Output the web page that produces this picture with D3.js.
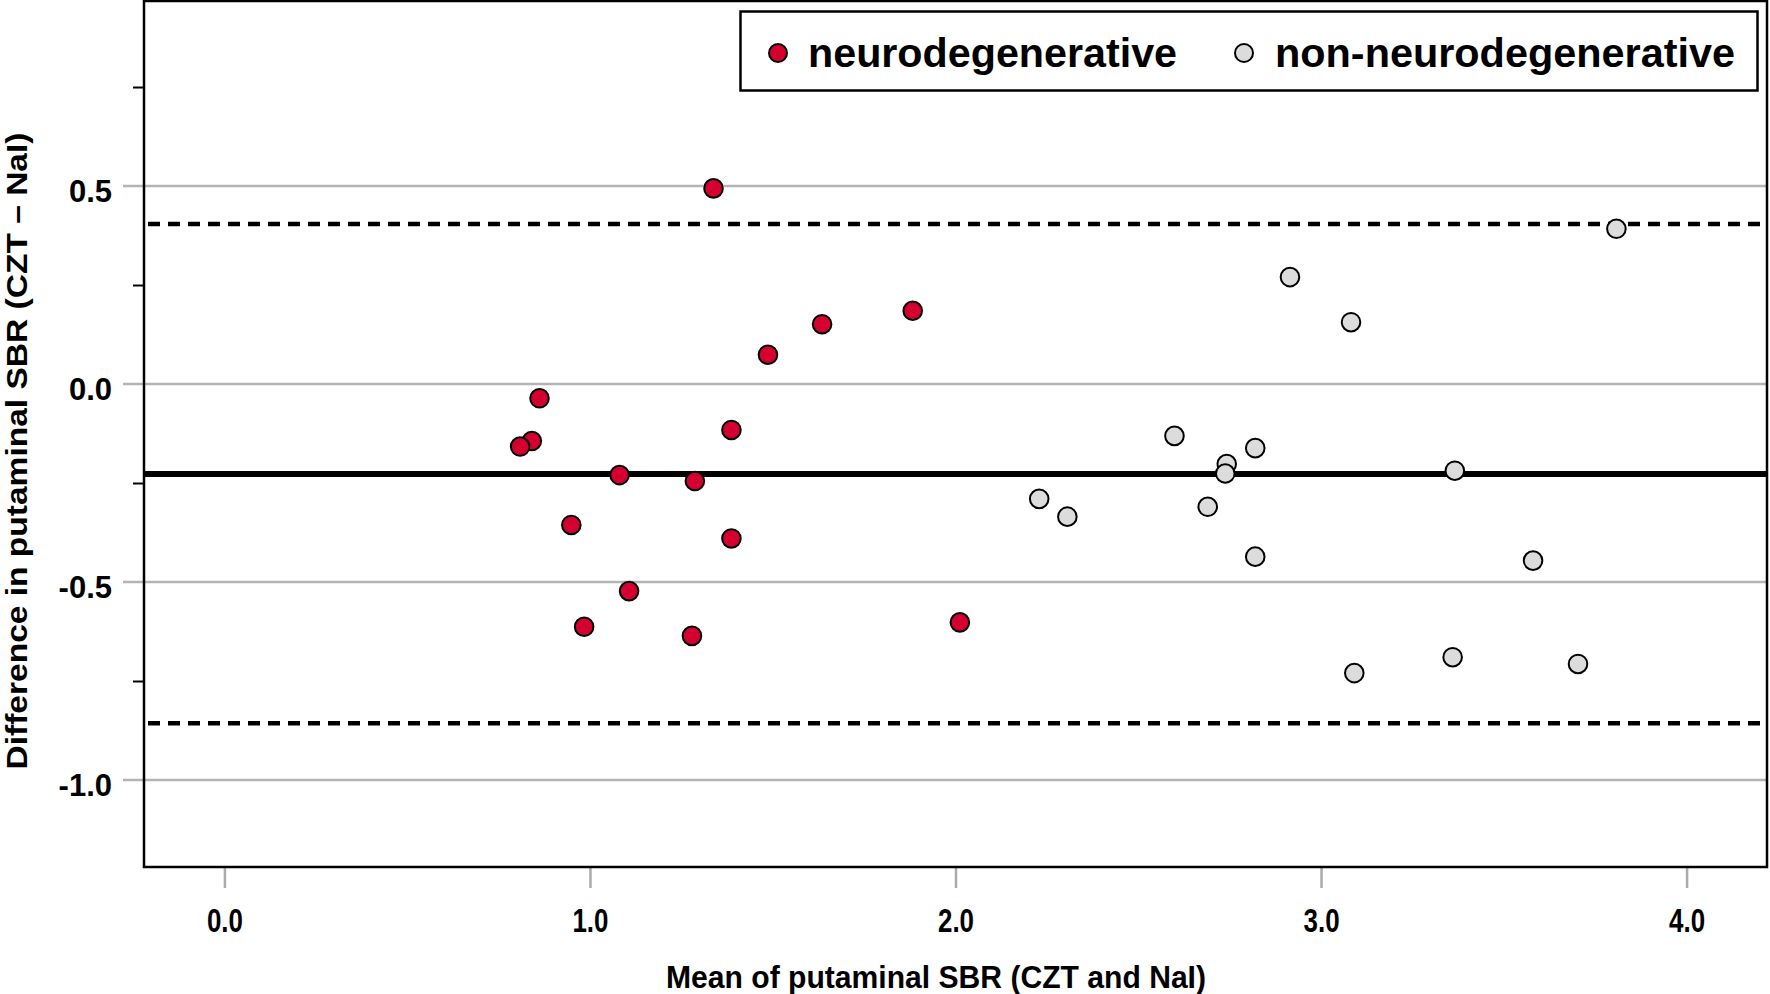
<!DOCTYPE html>
<html>
<head>
<meta charset="utf-8">
<script src="https://cdn.jsdelivr.net/npm/d3@7"></script>
<style>
  html, body { margin: 0; padding: 0; background: #fff; }
  svg { display: block; }
  text { font-family: "Liberation Sans", Arial, sans-serif; font-weight: bold; fill: #000; }
</style>
</head>
<body>
<svg id="chart" width="1770" height="994"></svg>
<script>
// ---- data ----
const neuroX = [1.338, 1.883, 1.635, 1.487, 0.862, 0.841, 0.809, 1.387, 1.081, 1.287, 0.949, 1.387, 1.107, 0.984, 1.279, 2.012];
const neuroY = [0.494, 0.185, 0.151, 0.074, -0.036, -0.144, -0.158, -0.116, -0.230, -0.245, -0.356, -0.390, -0.523, -0.613, -0.636, -0.602];
const nonNeuroX = [3.808, 2.915, 3.082, 2.599, 2.820, 2.742, 2.738, 3.366, 2.229, 2.306, 2.690, 2.820, 3.580, 3.360, 3.091, 3.703];
const nonNeuroY = [0.392, 0.270, 0.156, -0.131, -0.162, -0.202, -0.226, -0.219, -0.290, -0.335, -0.310, -0.436, -0.446, -0.690, -0.730, -0.707];
const meanDiff = -0.227;
const upperLoA = 0.404;
const lowerLoA = -0.857;
const xTicks = [0, 1, 2, 3, 4];
const yTicks = [0.5, 0, -0.5, -1.0];
const yMinorTicks = [0.75, 0.25, -0.25, -0.75];
const seriesNames = ["neurodegenerative", "non-neurodegenerative"];
const seriesColors = ["#d4002f", "#dcdcdc"];
const xTitle = "Mean of putaminal SBR (CZT and NaI)";
const yTitle = "Difference in putaminal SBR (CZT \u2013 NaI)";

// ---- layout ----
const svg = d3.select("#chart");
const L = 144, R = 1767, T = 1, B = 867;
const x = d3.scaleLinear().domain([-0.22, 4.22]).range([L, R]);
const y = d3.scaleLinear().domain([-1.2197, 0.9672]).range([B, T]);
const fmt = d => d.toFixed(1);

// gridlines
svg.append("g").selectAll("line").data(yTicks).join("line")
  .attr("x1", 123).attr("x2", R)
  .attr("y1", d => y(d)).attr("y2", d => y(d))
  .attr("stroke", "#b4b4b4").attr("stroke-width", 2.5);

// minor y ticks (black)
const yMinorAxis = svg.append("g").attr("transform", `translate(${L},0)`)
  .call(d3.axisLeft(y).tickValues(yMinorTicks).tickSize(11).tickFormat(""));
yMinorAxis.select(".domain").remove();
yMinorAxis.selectAll("line").attr("stroke", "#000").attr("stroke-width", 2);

// y tick labels
const yAxis = svg.append("g").attr("transform", `translate(112,0)`)
  .call(d3.axisLeft(y).tickValues(yTicks).tickSize(0).tickPadding(0).tickFormat(fmt));
yAxis.select(".domain").remove();
yAxis.selectAll("text")
  .attr("font-size", 31).attr("font-family", null).attr("dy", "0.5em")
  .style("font-family", '"Liberation Sans", Arial, sans-serif').style("font-weight", "bold");

// x ticks
const xAxis = svg.append("g").attr("transform", `translate(0,${B})`)
  .call(d3.axisBottom(x).tickValues(xTicks).tickSize(21).tickFormat(fmt));
xAxis.select(".domain").remove();
xAxis.selectAll("line").attr("stroke", "#ababab").attr("stroke-width", 2.5);
xAxis.selectAll("text")
  .attr("y", 53).attr("dy", "0.36em").attr("font-size", 34).attr("font-family", null)
  .attr("textLength", 36).attr("lengthAdjust", "spacingAndGlyphs")
  .style("font-family", '"Liberation Sans", Arial, sans-serif').style("font-weight", "bold");

// reference lines
svg.append("line").attr("x1", L).attr("x2", R).attr("y1", y(meanDiff)).attr("y2", y(meanDiff))
  .attr("stroke", "#000").attr("stroke-width", 6);
svg.append("g").selectAll("line").data([upperLoA, lowerLoA]).join("line")
  .attr("x1", L + 4).attr("x2", R).attr("y1", d => y(d)).attr("y2", d => y(d))
  .attr("stroke", "#000").attr("stroke-width", 4.5).attr("stroke-dasharray", "12,8");

// frame
svg.append("rect").attr("x", L).attr("y", T).attr("width", R - L).attr("height", B - T)
  .attr("fill", "none").attr("stroke", "#000").attr("stroke-width", 2.5);

// points
const neuro = neuroX.map((v, i) => ({ x: v, y: neuroY[i] }));
const nonNeuro = nonNeuroX.map((v, i) => ({ x: v, y: nonNeuroY[i] }));
svg.append("g").selectAll("circle").data(nonNeuro).join("circle")
  .attr("cx", d => x(d.x)).attr("cy", d => y(d.y)).attr("r", 9.3)
  .attr("fill", seriesColors[1]).attr("stroke", "#000").attr("stroke-width", 2);
svg.append("g").selectAll("circle").data(neuro).join("circle")
  .attr("cx", d => x(d.x)).attr("cy", d => y(d.y)).attr("r", 9.3)
  .attr("fill", seriesColors[0]).attr("stroke", "#000").attr("stroke-width", 2);

// legend
const lg = svg.append("g");
lg.append("rect").attr("x", 740.5).attr("y", 11.5).attr("width", 1017).attr("height", 79)
  .attr("fill", "#fff").attr("stroke", "#000").attr("stroke-width", 2.5);
const legendItems = [
  { cx: 778, tx: 808, w: 369 },
  { cx: 1244, tx: 1275, w: 460 }
];
legendItems.forEach((it, i) => {
  lg.append("circle").attr("cx", it.cx).attr("cy", 53).attr("r", 9)
    .attr("fill", seriesColors[i]).attr("stroke", "#000").attr("stroke-width", 2);
  lg.append("text").attr("x", it.tx).attr("y", 53).attr("dy", "0.36em")
    .attr("font-size", 40).attr("textLength", it.w).attr("lengthAdjust", "spacingAndGlyphs")
    .text(seriesNames[i]);
});

// axis titles
svg.append("text").attr("x", 936).attr("y", 976).attr("dy", "0.36em")
  .attr("text-anchor", "middle").attr("font-size", 32)
  .attr("textLength", 540).attr("lengthAdjust", "spacingAndGlyphs")
  .text(xTitle);
svg.append("text").attr("transform", `translate(27,451) rotate(-90)`)
  .attr("text-anchor", "middle").attr("font-size", 30)
  .attr("textLength", 637).attr("lengthAdjust", "spacingAndGlyphs")
  .text(yTitle);
</script>
</body>
</html>
